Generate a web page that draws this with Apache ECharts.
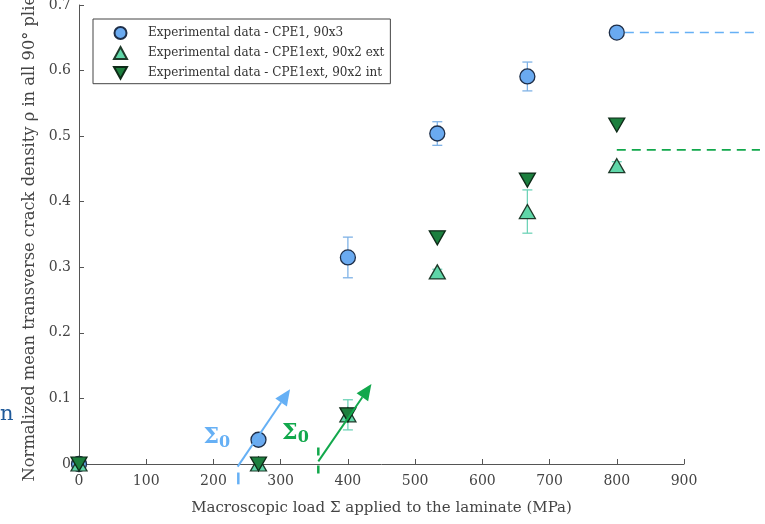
<!DOCTYPE html>
<html>
<head>
<meta charset="utf-8">
<script src="https://cdn.jsdelivr.net/npm/echarts@6/dist/echarts.min.js"></script>
<style>
  html, body { margin: 0; padding: 0; background: #fff; }
  #chart { width: 765px; height: 524px; }
</style>
</head>
<body>
<div id="chart"></div>
<script>
// loads (MPa)
const loads = [0, 267, 400, 533, 667, 800];
// CPE1, 90x3
const cpe1 = [0, 0.037, 0.315, 0.504, 0.591, 0.658];
const cpe1Err = [0, 0, 0.031, 0.018, 0.022, 0];
// CPE1ext, 90x2 ext
const extVals = [0, 0, 0.075, 0.293, 0.385, 0.455];
const extErr = [0, 0, 0.023, 0.004, 0.033, 0.006];
// CPE1ext, 90x2 int
const intVals = [0, 0, 0.075, 0.345, 0.433, 0.517];
// saturation levels (dashed): [x0, y0, x1, y1]
const satBlue = [812, 0.658, 1013, 0.658];
const satGreen = [800, 0.479, 1013, 0.479];
// Sigma0 arrows and threshold ticks [x0, y0, x1, y1]
const arrowBlue = [236, -0.004, 314, 0.114];
const arrowGreen = [356, 0.004, 435, 0.122];
const tickBlue = [237, -0.013, 237, -0.031];
const tickGreen = [356, 0.025, 356, -0.02];
const sigmaBlue = [205, 0.04];
const sigmaGreen = [322, 0.047];

const serif = '"DejaVu Serif", serif';
const blue = '#6aaaf0', mint = '#5fd6a8', dkgreen = '#1c7f3e';
const lblue = '#66b0f5', lgreen = '#12a84c';

const pts = (ys) => loads.map((x, i) => [x, ys[i]]);

function errSeries(vals, errs, color) {
  const d = loads.map((x, i) => [x, vals[i] - errs[i], vals[i] + errs[i]]).filter((r, i) => errs[i] > 0);
  return {
    type: 'custom',
    silent: true,
    z: 2,
    data: d,
    renderItem: function (params, api) {
      const lo = api.coord([api.value(0), api.value(1)]);
      const hi = api.coord([api.value(0), api.value(2)]);
      const w = 5;
      const st = { stroke: color, lineWidth: 1.3 };
      return {
        type: 'group',
        children: [
          { type: 'line', shape: { x1: lo[0], y1: lo[1], x2: hi[0], y2: hi[1] }, style: st },
          { type: 'line', shape: { x1: lo[0] - w, y1: lo[1], x2: lo[0] + w, y2: lo[1] }, style: st },
          { type: 'line', shape: { x1: hi[0] - w, y1: hi[1], x2: hi[0] + w, y2: hi[1] }, style: st }
        ]
      };
    }
  };
}

// annotation segments: coords, colour, dash, arrow head
const segs = [
  { c: satBlue, color: lblue, dash: [9, 6], w: 1.6, arrow: false },
  { c: satGreen, color: lgreen, dash: [9, 6], w: 1.6, arrow: false },
  { c: arrowBlue, color: lblue, dash: null, w: 2, arrow: true },
  { c: arrowGreen, color: lgreen, dash: null, w: 2, arrow: true },
  { c: tickBlue, color: lblue, dash: null, w: 2.5, arrow: false },
  { c: tickGreen, color: lgreen, dash: [8, 10], w: 2.5, arrow: false }
];

const annot = {
  type: 'custom',
  silent: true,
  clip: false,
  z: 6,
  data: segs.map((s, i) => [i]),
  renderItem: function (params, api) {
    const s = segs[params.dataIndex];
    const p0 = api.coord([s.c[0], s.c[1]]);
    const p1 = api.coord([s.c[2], s.c[3]]);
    const children = [];
    let ex = p1[0], ey = p1[1];
    if (s.arrow) {
      const dx = p1[0] - p0[0], dy = p1[1] - p0[1];
      const len = Math.sqrt(dx * dx + dy * dy);
      const ux = dx / len, uy = dy / len;
      const hl = 16, hw = 7;
      const bx = p1[0] - ux * hl, by = p1[1] - uy * hl;
      ex = bx; ey = by;
      children.push({
        type: 'polygon',
        shape: { points: [[p1[0], p1[1]], [bx - uy * hw, by + ux * hw], [bx + uy * hw, by - ux * hw]] },
        style: { fill: s.color }
      });
    }
    children.unshift({
      type: 'line',
      shape: { x1: p0[0], y1: p0[1], x2: ex, y2: ey },
      style: { stroke: s.color, lineWidth: s.w, lineDash: s.dash }
    });
    return { type: 'group', children: children };
  }
};

function sigmaLabel(pos, color) {
  return {
    coord: pos,
    label: {
      show: true,
      formatter: '{s|Σ}{z|0}',
      rich: {
        s: { fontSize: 22, fontWeight: 'bold', fontFamily: serif, color: color },
        z: { fontSize: 16, fontWeight: 'bold', fontFamily: serif, color: color, padding: [10, 0, 0, 0] }
      }
    }
  };
}

const chart = echarts.init(document.getElementById('chart'));
const option = {
  animation: false,
  backgroundColor: '#fff',
  grid: { left: 79, right: 81, top: 5, bottom: 60, outerBoundsMode: 'none', containLabel: false },
  legend: {
    left: 93,
    top: 19,
    orient: 'vertical',
    backgroundColor: '#fff',
    borderColor: '#444',
    borderWidth: 1,
    borderRadius: 0,
    padding: [7, 6, 4, 20],
    itemGap: 6,
    itemWidth: 13,
    itemHeight: 12,
    textStyle: { fontFamily: serif, fontSize: 12, color: '#333', padding: [0, 0, 0, 16] },
    data: [
      'Experimental data - CPE1, 90x3',
      'Experimental data - CPE1ext, 90x2 ext',
      'Experimental data - CPE1ext, 90x2 int'
    ]
  },
  xAxis: {
    type: 'value',
    min: 0,
    max: 900,
    interval: 100,
    name: 'Macroscopic load Σ applied to the laminate (MPa)',
    nameLocation: 'middle',
    nameGap: 37,
    nameTextStyle: { fontFamily: serif, fontSize: 15, color: '#444' },
    axisLine: { onZero: false, lineStyle: { color: '#555', width: 1 } },
    axisTick: { inside: true, length: 5, lineStyle: { color: '#555' } },
    axisLabel: { fontFamily: serif, fontSize: 14, color: '#444', margin: 10 },
    splitLine: { show: false }
  },
  yAxis: {
    type: 'value',
    min: 0,
    max: 0.7,
    interval: 0.1,
    name: 'Normalized mean transverse crack density ρ in all 90° plies',
    nameLocation: 'middle',
    nameGap: 36,
    nameTextStyle: { fontFamily: serif, fontSize: 16.3, color: '#444' },
    axisLine: { show: true, lineStyle: { color: '#555', width: 1 } },
    axisTick: { show: true, inside: true, length: 5, lineStyle: { color: '#555' } },
    axisLabel: { fontFamily: serif, fontSize: 14, color: '#444', margin: 8 },
    splitLine: { show: false }
  },
  series: [
    errSeries(cpe1, cpe1Err, '#7fb2e6'),
    errSeries(extVals, extErr, '#6fd3b8'),
    {
      name: 'Experimental data - CPE1, 90x3',
      type: 'scatter',
      z: 3,
      symbol: 'circle',
      symbolSize: 15,
      itemStyle: { color: blue, borderColor: '#1e2e48', borderWidth: 1.3, opacity: 1 },
      data: pts(cpe1)
    },
    {
      name: 'Experimental data - CPE1ext, 90x2 ext',
      type: 'scatter',
      z: 4,
      symbol: 'triangle',
      symbolSize: [16, 14],
      itemStyle: { color: mint, borderColor: '#1e3a2a', borderWidth: 1.3, opacity: 1 },
      data: pts(extVals)
    },
    {
      name: 'Experimental data - CPE1ext, 90x2 int',
      type: 'scatter',
      z: 5,
      symbol: 'path://M0,0 L10,0 L5,9 Z',
      symbolSize: [16, 14],
      itemStyle: { color: dkgreen, borderColor: '#0e2a18', borderWidth: 1.3, opacity: 1 },
      data: pts(intVals)
    },
    annot,
    {
      type: 'line',
      silent: true,
      data: [],
      markPoint: {
        silent: true,
        symbol: 'circle',
        symbolSize: 0,
        data: [sigmaLabel(sigmaBlue, lblue), sigmaLabel(sigmaGreen, lgreen)]
      }
    }
  ],
  graphic: [
    { type: 'text', left: 0, top: 404, style: { text: 'n', fontFamily: serif, fontSize: 21, fill: '#1f5a9a' } }
  ]
};
chart.setOption(option);
</script>
</body>
</html>
